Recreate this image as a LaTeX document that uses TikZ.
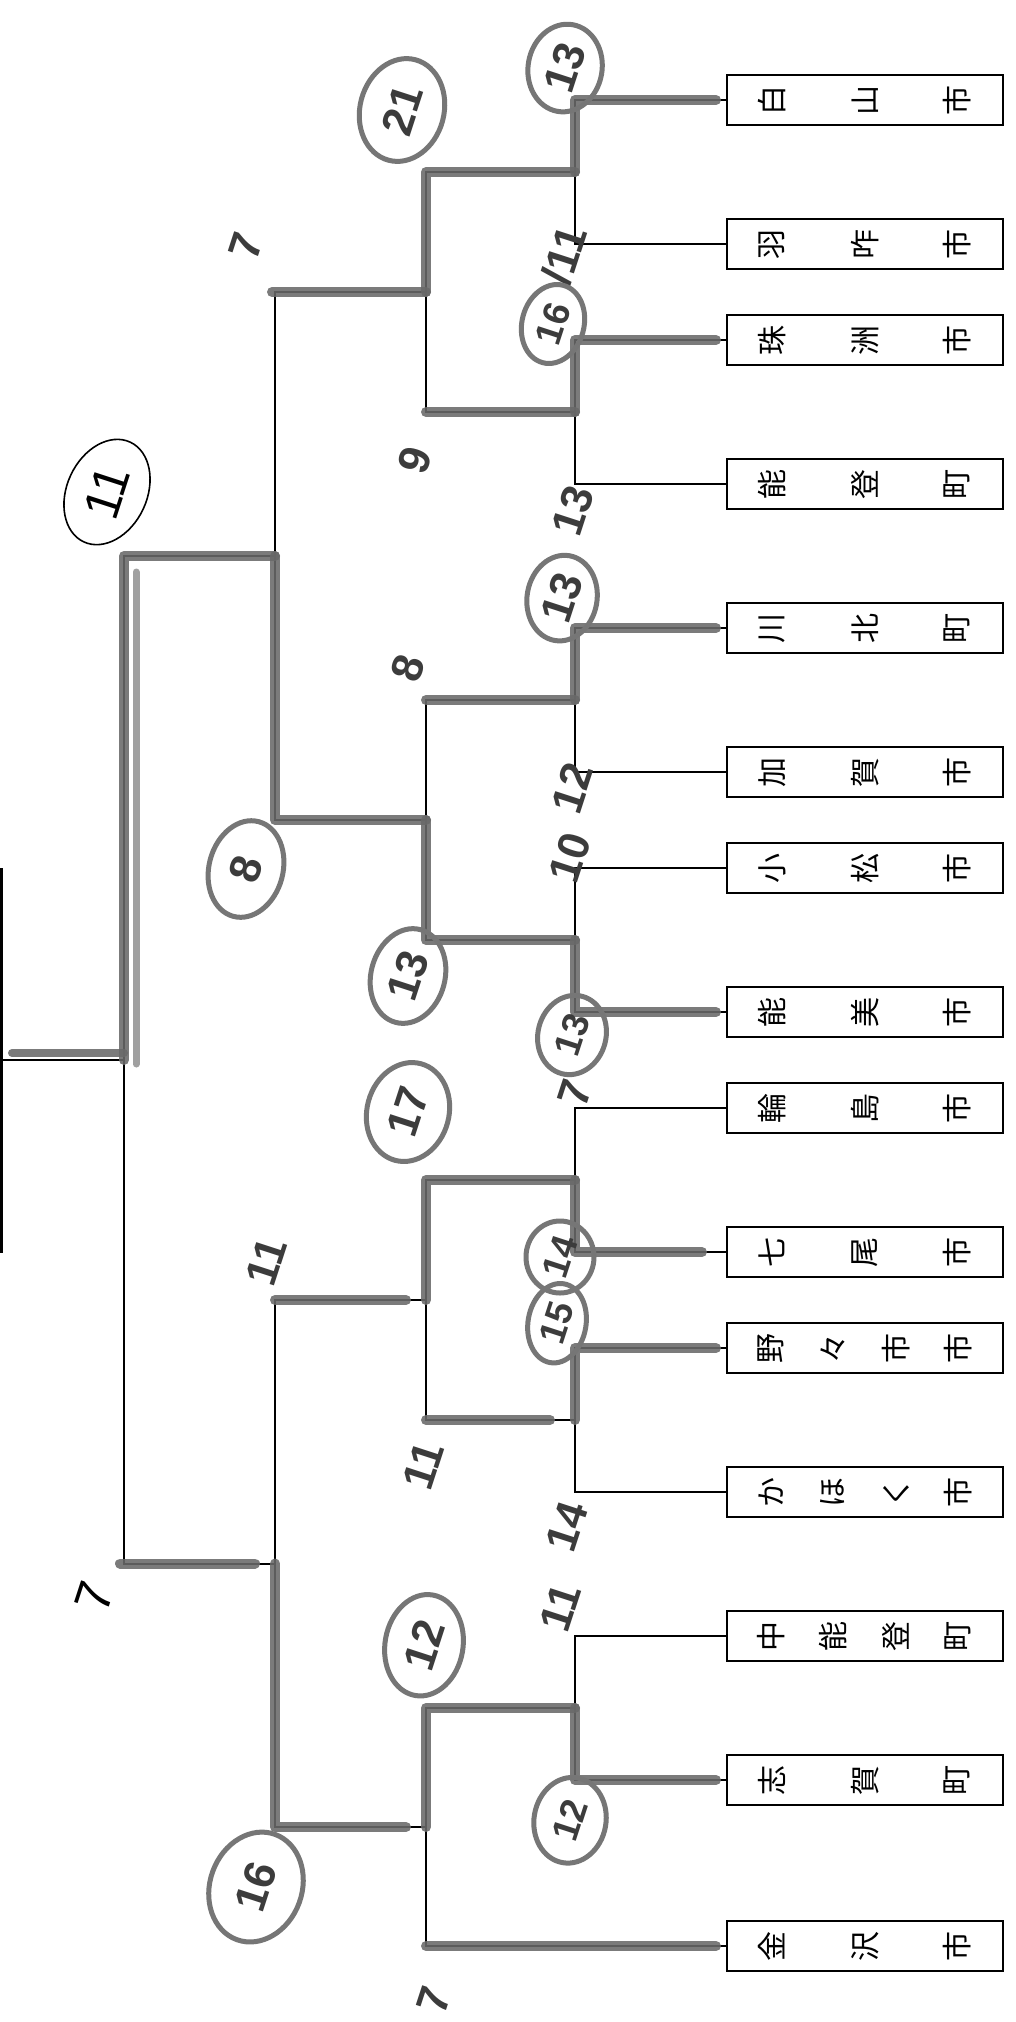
\documentclass[tikz,border=0pt]{standalone}
\usepackage{fontspec}
\newfontfamily\cjk{Noto Sans CJK JP}
\newfontfamily\hand{Liberation Sans}
\usetikzlibrary{calc}
\definecolor{mk}{RGB}{105,105,105}
\definecolor{mkl}{RGB}{160,160,160}
\definecolor{ink}{RGB}{60,60,60}
\definecolor{ringc}{RGB}{118,118,118}
\newcommand\mkboxthree[5]{%
  \node[tbox] (#1) at (865,#2) {};
  \node[chr] (#1x1) at (772,#2) {#3};
  \node[chr] (#1x2) at (865,#2) {#4};
  \node[chr] (#1x3) at (957,#2) {#5};}
\newcommand\mkboxfour[6]{%
  \node[tbox] (#1) at (865,#2) {};
  \node[chr] (#1x1) at (771,#2) {#3};
  \node[chr] (#1x2) at (833,#2) {#4};
  \node[chr] (#1x3) at (896,#2) {#5};
  \node[chr] (#1x4) at (958,#2) {#6};}
\begin{document}
\begin{tikzpicture}[x=1pt,y=-1pt,
  tbox/.style={draw=black, line width=2pt, minimum width=276pt, minimum height=50pt, inner sep=0pt},
  chr/.style={rotate=90, font=\cjk\fontsize{30}{30}\selectfont, inner sep=0pt},
  bline/.style={draw=black, line width=2pt},
  wline/.style={draw=mk, line width=10pt, line cap=round, line join=round, opacity=0.88},
  num/.style={rotate=72, text=ink, font=\hand\bfseries\fontsize{44}{44}\selectfont, inner sep=0pt},
  smallnum/.style={num, font=\hand\bfseries\fontsize{37}{37}\selectfont},
  thinnum/.style={rotate=72, text=black, font=\hand\fontsize{50}{50}\selectfont, inner sep=0pt},
  ringline/.style={draw=ringc, line width=5pt},
  thinring/.style={draw=black, line width=1.6pt},
]
\useasboundingbox (0,0) rectangle (1016,2022);
\fill[white] (0,0) rectangle (1016,2022);

% boxes
\mkboxthree{b1}{100}{白}{山}{市}
\mkboxthree{b2}{244}{羽}{咋}{市}
\mkboxthree{b3}{340}{珠}{洲}{市}
\mkboxthree{b4}{484}{能}{登}{町}
\mkboxthree{b5}{628}{川}{北}{町}
\mkboxthree{b6}{772}{加}{賀}{市}
\mkboxthree{b7}{868}{小}{松}{市}
\mkboxthree{b8}{1012}{能}{美}{市}
\mkboxthree{b9}{1108}{輪}{島}{市}
\mkboxthree{b10}{1252}{七}{尾}{市}
\mkboxfour{b11}{1348}{野}{々}{市}{市}
\mkboxfour{b12}{1492}{か}{ほ}{く}{市}
\mkboxfour{b13}{1636}{中}{能}{登}{町}
\mkboxthree{b14}{1780}{志}{賀}{町}
\mkboxthree{b15}{1946}{金}{沢}{市}

% junctions
\coordinate (m1) at (575,172);
\coordinate (m2) at (575,412);
\coordinate (m3) at (575,700);
\coordinate (m4) at (575,940);
\coordinate (m5) at (575,1180);
\coordinate (m6) at (575,1420);
\coordinate (m7) at (575,1708);
\coordinate (n1) at (426,292);
\coordinate (n2) at (426,820);
\coordinate (n3) at (426,1300);
\coordinate (n4) at (426,1827);
\coordinate (p1) at (275,556);
\coordinate (p2) at (275,1563.5);
\coordinate (q) at (124,1060);
\coordinate (c0) at (0,1060);
\coordinate (e1) at (1.5,868);
\coordinate (e2) at (1.5,1253);

% thin bracket
\draw[bline] (b1.west) -| (m1);
\draw[bline] (b2.west) -| (m1);
\draw[bline] (b3.west) -| (m2);
\draw[bline] (b4.west) -| (m2);
\draw[bline] (b5.west) -| (m3);
\draw[bline] (b6.west) -| (m3);
\draw[bline] (b7.west) -| (m4);
\draw[bline] (b8.west) -| (m4);
\draw[bline] (b9.west) -| (m5);
\draw[bline] (b10.west) -| (m5);
\draw[bline] (b11.west) -| (m6);
\draw[bline] (b12.west) -| (m6);
\draw[bline] (b13.west) -| (m7);
\draw[bline] (b14.west) -| (m7);
\draw[bline] (b15.west) -| (n4);
\draw[bline] (m1) -| (n1);
\draw[bline] (m2) -| (n1);
\draw[bline] (m3) -| (n2);
\draw[bline] (m4) -| (n2);
\draw[bline] (m5) -| (n3);
\draw[bline] (m6) -| (n3);
\draw[bline] (m7) -| (n4);
\draw[bline] (n1) -| (p1);
\draw[bline] (n2) -| (p1);
\draw[bline] (n3) -| (p2);
\draw[bline] (n4) -| (p2);
\draw[bline] (p1) -| (q);
\draw[bline] (p2) -| (q);
\draw[bline] (q) -- (c0);
\draw[draw=black, line width=3pt] (e1) -- (e2);

% winner marker strokes
\draw[wline] ([xshift=-10pt]b1.west) -| (m1);
\draw[wline] ([xshift=-10pt]b3.west) -| (m2);
\draw[wline] ([xshift=-10pt]b5.west) -| (m3);
\draw[wline] ([xshift=-10pt]b8.west) -| (m4);
\draw[wline] ([xshift=-24pt]b10.west) -| (m5);
\draw[wline] ([xshift=-10pt]b11.west) -| (m6);
\draw[wline] ([xshift=-10pt]b14.west) -| (m7);
\draw[wline] ([xshift=-10pt]b15.west) -- (n4 |- b15.west);
\draw[wline] (m1) -| (n1);
\draw[wline] (m2) -- (n1 |- m2);
\draw[wline] (m3) -- (n2 |- m3);
\draw[wline] (m4) -| (n2);
\draw[wline] (m5) -| (n3);
\draw[wline] ([xshift=-25pt]m6) -- (n3 |- m6);
\draw[wline] (m7) -| (n4);
\draw[wline] (n1) -- ([xshift=-3pt]p1 |- n1);
\draw[wline] (n2) -| (p1);
\draw[wline] ([xshift=-20pt]n3) -- (p2 |- n3);
\draw[wline] ([xshift=-20pt]n4) -| (p2);
\draw[wline] (p1) -| (q);
\draw[wline] ([xshift=-20pt]p2) -- ([xshift=-4pt]q |- p2);
\draw[draw=mkl, line width=7pt, line cap=round] ($(q |- p1)+(12,16)$) -- ($(q)+(12,4)$);
\draw[wline, line width=8pt] ([yshift=7pt]q) -- ($(c0)+(12,-7)$);

% plain scores
\node[num] (s7a) at (246,246) {7};
\node[num] (s9) at (415,460) {9};
\node[num] (s11a) at (564,255) {/11};
\node[num] (s13a) at (573,511) {13};
\node[num] (s8a) at (408,668) {8};
\node[num] (s12a) at (572,788) {12};
\node[num] (s10) at (570,858) {10};
\node[num] (s7b) at (575,1093) {7};
\node[num] (s11b) at (266,1262) {11};
\node[num] (s11c) at (423,1466) {11};
\node[num] (s14) at (567,1527) {14};
\node[num] (s11d) at (560,1608) {11};
\node[thinnum] (s7c) at (94,1597) {7};
\node[num] (s7d) at (434,2000) {7};

% circled scores
\node[num] (c21) at (402,110) {21};
\draw[ringline, rotate around={-15:(c21)}] (c21) ellipse [x radius=42pt, y radius=52pt];
\node[num] (c13a) at (565,68) {13};
\draw[ringline, rotate around={-10:(c13a)}] (c13a) ellipse [x radius=37pt, y radius=44pt];
\node[smallnum] (c16a) at (553,324) {16};
\draw[ringline, rotate around={-15:(c16a)}] (c16a) ellipse [x radius=31pt, y radius=40pt];
\node[thinnum] (c11) at (107,492) {11};
\draw[thinring, rotate around={-25:(c11)}] (c11) ellipse [x radius=40pt, y radius=55pt];
\node[num] (c13b) at (562,598) {13};
\draw[ringline, rotate around={-10:(c13b)}] (c13b) ellipse [x radius=35pt, y radius=43pt];
\node[num] (c8) at (246,869) {8};
\draw[ringline, rotate around={-15:(c8)}] (c8) ellipse [x radius=37pt, y radius=49pt];
\node[num] (c13c) at (408,976) {13};
\draw[ringline, rotate around={-15:(c13c)}] (c13c) ellipse [x radius=37pt, y radius=48pt];
\node[smallnum] (c13d) at (572,1035) {13};
\draw[ringline, rotate around={-15:(c13d)}] (c13d) ellipse [x radius=34pt, y radius=40pt];
\node[num] (c17) at (408,1112) {17};
\draw[ringline, rotate around={-15:(c17)}] (c17) ellipse [x radius=41pt, y radius=50pt];
\node[smallnum] (c14) at (560,1257) {14};
\draw[ringline] (c14) ellipse [x radius=34pt, y radius=36pt];
\node[smallnum] (c15) at (557,1323) {15};
\draw[ringline, rotate around={-10:(c15)}] (c15) ellipse [x radius=29pt, y radius=40pt];
\node[num] (c12a) at (424,1645) {12};
\draw[ringline, rotate around={-10:(c12a)}] (c12a) ellipse [x radius=39pt, y radius=51pt];
\node[smallnum] (c12b) at (570,1820) {12};
\draw[ringline, rotate around={-10:(c12b)}] (c12b) ellipse [x radius=36pt, y radius=43pt];
\node[num] (c16b) at (256,1887) {16};
\draw[ringline, rotate around={-20:(c16b)}] (c16b) ellipse [x radius=46pt, y radius=56pt];
\end{tikzpicture}
\end{document}
